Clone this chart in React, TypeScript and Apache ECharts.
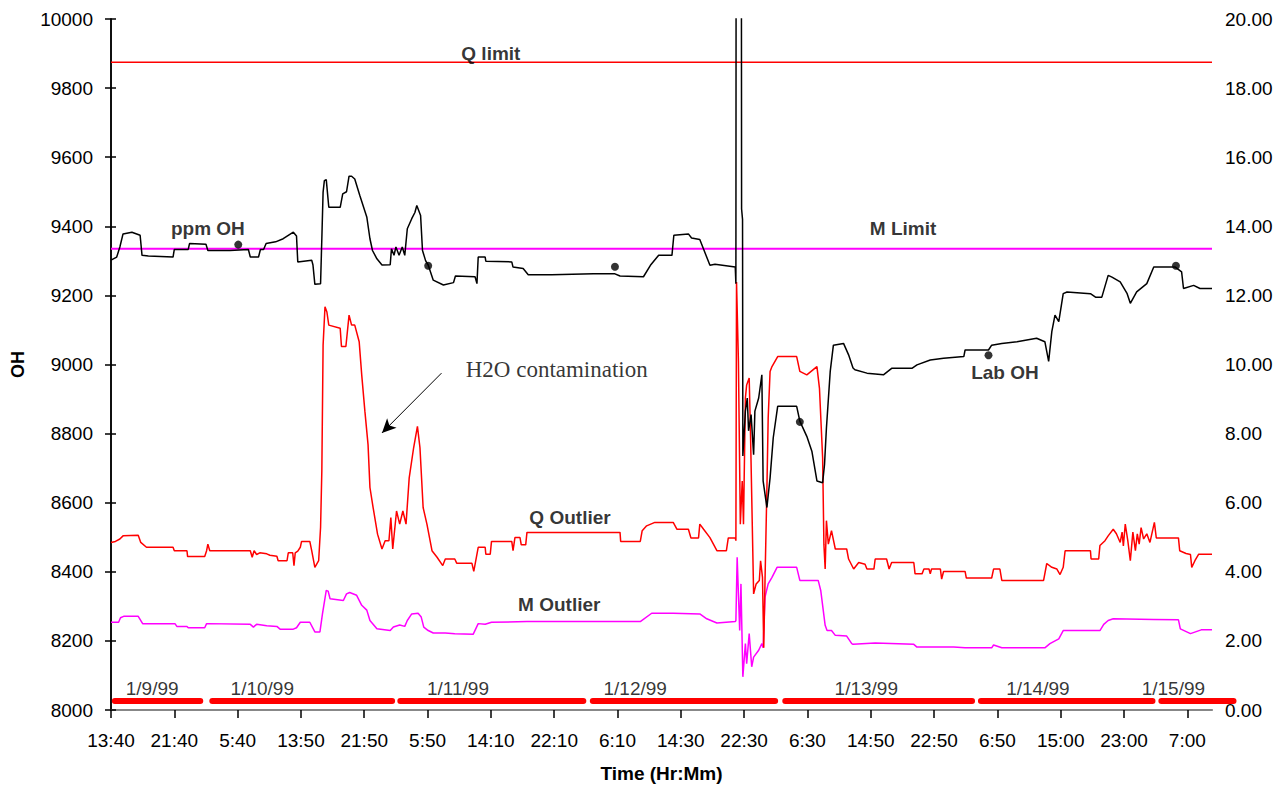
import React, { useEffect, useRef } from "react";
import * as echarts from "echarts";

const timeLabels = ["13:40","21:40","5:40","13:50","21:50","5:50","14:10","22:10","6:10","14:30","22:30","6:30","14:50","22:50","6:50","15:00","23:00","7:00"];
const X_MAX = 17.39;

// ppm OH (left axis), x in label-interval units
const ppmOH = [[0,9302],[0.09,9311],[0.14,9340],[0.19,9378],[0.33,9383],[0.46,9374],[0.49,9316],[0.59,9314],[0.98,9311],[1.0,9333],[1.22,9333],[1.24,9350],[1.50,9348],[1.53,9330],[1.88,9330],[2.17,9333],[2.20,9311],[2.33,9311],[2.36,9333],[2.41,9333],[2.45,9350],[2.60,9355],[2.72,9364],[2.88,9383],[2.93,9372],[2.95,9297],[3.17,9302],[3.19,9288],[3.22,9232],[3.31,9234],[3.33,9364],[3.35,9499],[3.37,9532],[3.40,9535],[3.44,9455],[3.62,9455],[3.66,9494],[3.72,9500],[3.76,9545],[3.80,9545],[3.85,9537],[3.93,9489],[4.04,9427],[4.09,9364],[4.13,9330],[4.20,9306],[4.28,9288],[4.41,9289],[4.43,9335],[4.47,9316],[4.50,9340],[4.55,9316],[4.60,9340],[4.64,9316],[4.68,9393],[4.75,9422],[4.80,9440],[4.83,9460],[4.89,9431],[4.92,9330],[4.97,9300],[5.01,9288],[5.09,9244],[5.25,9230],[5.41,9237],[5.44,9256],[5.75,9254],[5.78,9234],[5.80,9311],[5.91,9311],[5.92,9299],[6.33,9297],[6.35,9282],[6.51,9278],[6.59,9260],[6.96,9260],[7.62,9263],[7.95,9263],[8.04,9256],[8.41,9254],[8.52,9287],[8.65,9316],[8.86,9316],[8.89,9374],[9.12,9378],[9.17,9366],[9.30,9362],[9.46,9287],[9.54,9290],[9.86,9282],[9.87,9234],[9.875,10600],[9.955,10600],[9.96,9450],[9.975,9420],[9.98,8735],[10.02,8865],[10.05,8903],[10.07,8808],[10.11,8855],[10.15,8739],[10.17,8865],[10.23,8903],[10.28,8970],[10.30,8663],[10.36,8586],[10.41,8672],[10.46,8788],[10.53,8879],[10.83,8879],[10.88,8836],[10.99,8792],[11.07,8749],[11.15,8663],[11.24,8658],[11.27,8711],[11.30,8816],[11.36,8980],[11.41,9056],[11.57,9061],[11.65,9028],[11.72,8990],[11.75,8985],[11.94,8975],[12.20,8970],[12.33,8989],[12.65,8989],[12.73,8999],[12.94,9013],[13.15,9018],[13.47,9023],[13.49,9042],[13.86,9042],[13.91,9056],[14.07,9061],[14.31,9066],[14.62,9076],[14.75,9066],[14.81,9009],[14.86,9095],[14.91,9143],[14.97,9124],[15.04,9205],[15.10,9210],[15.47,9205],[15.55,9195],[15.65,9195],[15.75,9258],[15.81,9253],[15.94,9239],[16.05,9205],[16.10,9177],[16.20,9210],[16.36,9234],[16.47,9282],[16.81,9282],[16.91,9268],[16.94,9220],[17.10,9229],[17.20,9220],[17.39,9220]];

// Q outlier (right axis)
const qOutlier = [[0,4.85],[0.07,4.88],[0.14,4.95],[0.19,5.04],[0.43,5.06],[0.47,4.85],[0.56,4.71],[0.98,4.71],[1.0,4.61],[1.20,4.61],[1.21,4.44],[1.48,4.44],[1.51,4.61],[1.53,4.80],[1.56,4.61],[2.20,4.61],[2.23,4.42],[2.26,4.61],[2.30,4.50],[2.35,4.55],[2.46,4.52],[2.51,4.48],[2.62,4.45],[2.64,4.32],[2.78,4.32],[2.80,4.55],[2.87,4.55],[2.89,4.18],[2.91,4.55],[2.95,4.60],[2.99,4.71],[3.01,4.88],[3.14,4.88],[3.17,4.61],[3.22,4.13],[3.28,4.32],[3.31,5.28],[3.33,6.92],[3.35,10.56],[3.38,11.67],[3.41,11.52],[3.44,11.14],[3.62,11.05],[3.64,10.52],[3.71,10.52],[3.76,11.43],[3.80,11.14],[3.85,11.14],[3.92,10.66],[3.96,9.70],[4.01,8.65],[4.06,7.68],[4.09,6.44],[4.14,5.86],[4.21,5.09],[4.28,4.66],[4.33,4.90],[4.39,4.90],[4.42,5.57],[4.45,4.66],[4.51,5.76],[4.56,5.38],[4.61,5.76],[4.66,5.38],[4.71,6.72],[4.78,7.59],[4.84,8.21],[4.88,7.59],[4.93,5.86],[4.99,5.38],[5.07,4.61],[5.15,4.42],[5.24,4.18],[5.28,4.37],[5.43,4.37],[5.46,4.25],[5.70,4.25],[5.73,4.01],[5.80,4.71],[5.91,4.71],[5.92,4.51],[5.99,4.51],[6.01,4.88],[6.33,4.88],[6.35,4.61],[6.38,4.99],[6.46,4.99],[6.48,4.78],[6.55,4.78],[6.57,5.14],[8.04,5.14],[8.05,4.88],[8.36,4.88],[8.39,5.19],[8.46,5.33],[8.59,5.43],[8.88,5.43],[8.94,5.23],[9.12,5.23],[9.16,4.98],[9.28,4.98],[9.30,5.38],[9.36,5.23],[9.46,4.99],[9.57,4.61],[9.72,4.61],[9.75,4.98],[9.86,4.98],[9.87,4.90],[9.88,12.39],[9.91,10.09],[9.94,5.38],[9.97,6.63],[9.99,5.38],[10.02,9.03],[10.04,9.41],[10.08,9.61],[10.10,8.07],[10.15,3.36],[10.19,3.65],[10.24,3.75],[10.26,4.32],[10.29,3.84],[10.31,1.8],[10.33,3.75],[10.36,6.44],[10.38,8.45],[10.41,9.80],[10.44,9.94],[10.53,10.23],[10.83,10.23],[10.88,9.80],[10.99,9.70],[11.15,9.94],[11.19,9.31],[11.24,7.30],[11.26,4.80],[11.28,4.08],[11.30,5.48],[11.33,4.80],[11.38,5.19],[11.44,4.66],[11.62,4.66],[11.65,4.37],[11.73,4.08],[11.81,4.27],[11.91,4.22],[11.94,4.08],[12.05,4.08],[12.07,4.37],[12.25,4.37],[12.29,4.08],[12.33,4.27],[12.68,4.27],[12.70,3.94],[12.81,3.94],[12.84,4.08],[12.92,4.08],[12.94,3.94],[12.96,4.08],[13.10,4.08],[13.12,3.79],[13.15,4.01],[13.49,4.01],[13.51,3.82],[13.91,3.82],[13.94,4.08],[14.04,4.08],[14.07,3.75],[14.73,3.75],[14.78,4.24],[14.86,4.13],[14.94,4.08],[14.99,3.92],[15.04,4.13],[15.07,4.61],[15.47,4.61],[15.48,4.37],[15.60,4.37],[15.62,4.76],[15.70,4.90],[15.75,5.04],[15.83,5.23],[15.88,5.10],[15.94,4.85],[15.97,5.15],[15.99,4.75],[16.02,5.38],[16.06,4.90],[16.10,4.32],[16.14,5.15],[16.18,4.61],[16.21,5.10],[16.24,4.80],[16.27,5.28],[16.31,4.95],[16.36,5.10],[16.41,4.85],[16.48,5.43],[16.51,4.98],[16.86,4.98],[16.88,4.61],[16.98,4.53],[17.05,4.50],[17.07,4.13],[17.12,4.32],[17.18,4.51],[17.39,4.51]];

// M outlier (right axis)
const mOutlier = [[0,2.54],[0.12,2.54],[0.15,2.67],[0.20,2.71],[0.43,2.71],[0.50,2.50],[1.01,2.50],[1.04,2.42],[1.20,2.42],[1.22,2.38],[1.48,2.38],[1.51,2.50],[2.20,2.48],[2.25,2.40],[2.30,2.48],[2.46,2.44],[2.62,2.42],[2.67,2.34],[2.88,2.34],[2.93,2.38],[2.99,2.54],[3.14,2.54],[3.22,2.26],[3.30,2.26],[3.34,2.78],[3.40,3.46],[3.43,3.44],[3.46,3.22],[3.67,3.17],[3.72,3.36],[3.77,3.40],[3.88,3.32],[3.96,3.03],[4.04,2.89],[4.09,2.59],[4.20,2.35],[4.41,2.30],[4.46,2.40],[4.56,2.46],[4.64,2.42],[4.68,2.59],[4.75,2.78],[4.85,2.80],[4.90,2.69],[4.94,2.40],[5.01,2.30],[5.09,2.23],[5.28,2.23],[5.43,2.21],[5.72,2.19],[5.80,2.50],[5.91,2.48],[6.01,2.54],[6.57,2.56],[8.36,2.56],[8.54,2.80],[8.88,2.80],[9.30,2.78],[9.41,2.64],[9.57,2.52],[9.86,2.56],[9.87,2.59],[9.89,4.42],[9.93,2.30],[9.95,3.65],[9.98,0.96],[10.02,1.92],[10.04,1.34],[10.08,2.21],[10.12,1.25],[10.15,1.53],[10.23,1.73],[10.28,1.92],[10.30,1.80],[10.33,3.27],[10.38,3.65],[10.44,3.84],[10.52,4.13],[10.83,4.13],[10.88,3.75],[11.17,3.75],[11.21,3.46],[11.28,2.45],[11.31,2.30],[11.38,2.30],[11.44,2.16],[11.62,2.14],[11.70,1.92],[11.72,1.90],[12.07,1.94],[12.68,1.90],[12.73,1.82],[13.31,1.82],[13.49,1.80],[13.91,1.80],[13.94,1.88],[14.07,1.80],[14.75,1.80],[14.83,1.92],[14.97,2.06],[15.04,2.30],[15.62,2.30],[15.68,2.48],[15.75,2.59],[15.83,2.64],[16.47,2.62],[16.86,2.61],[16.89,2.35],[17.05,2.21],[17.22,2.32],[17.39,2.32]];

const labOH = [[2.01,9347],[5.01,9286],[7.96,9283],[10.88,8834],[13.86,9027],[16.82,9286]];
const Q_LIMIT = 18.75;
const M_LIMIT = 13.35;

const daySpans = [[0.06,1.41],[1.60,4.44],[4.57,7.46],[7.61,10.49],[10.65,13.60],[13.74,16.45],[16.59,17.73]];
const dayNames = ["1/9/99","1/10/99","1/11/99","1/12/99","1/13/99","1/14/99","1/15/99"];
const dayLabelX = [0.65,2.39,5.48,8.28,11.93,14.64,16.78];
const DAY_BAR_Y = 0.26;
const DAY_LABEL_Y = 0.62;

// annotations in left-axis units
const boldNotes = [
  { name: "ppm OH", value: [1.53, 9394] },
  { name: "Q limit", value: [6.0, 9900] },
  { name: "M Limit", value: [12.51, 9394] },
  { name: "Lab OH", value: [14.12, 8976] },
  { name: "Q Outlier", value: [7.25, 8557] },
  { name: "M Outlier", value: [7.08, 8305] },
];
const serifNote = { name: "H2O contamination", value: [7.04, 8985] };
const arrowFrom = [5.22, 8975];
const arrowTo = [4.28, 8802];

const SANS = "'Liberation Sans', Arial, sans-serif";
const FS = 19;

export default function App() {
  const ref = useRef<HTMLDivElement>(null);
  useEffect(() => {
    const chart = echarts.init(ref.current!, null, { renderer: "svg" });
    const series: any[] = [];
    series.push({
      type: "line", name: "Q limit", yAxisIndex: 1, showSymbol: false, silent: true,
      data: [[0, Q_LIMIT], [X_MAX, Q_LIMIT]],
      lineStyle: { color: "#ff0000", width: 1.5 }, z: 2,
    });
    series.push({
      type: "line", name: "M limit", yAxisIndex: 1, showSymbol: false, silent: true,
      data: [[0, M_LIMIT], [X_MAX, M_LIMIT]],
      lineStyle: { color: "#ff00ff", width: 2 }, z: 2,
    });
    series.push({
      type: "line", name: "M Outlier", yAxisIndex: 1, showSymbol: false, silent: true,
      data: mOutlier, lineStyle: { color: "#ff00ff", width: 1.5 }, z: 3,
    });
    series.push({
      type: "line", name: "Q Outlier", yAxisIndex: 1, showSymbol: false, silent: true,
      data: qOutlier, lineStyle: { color: "#ff0000", width: 1.5 }, z: 4,
    });
    series.push({
      type: "line", name: "ppm OH", yAxisIndex: 0, showSymbol: false, silent: true,
      data: ppmOH, lineStyle: { color: "#000000", width: 1.5 }, z: 5,
      markLine: {
        silent: true, symbol: ["none", "arrow"], symbolSize: [10, 14],
        lineStyle: { color: "#000", width: 1, type: "solid" },
        label: { show: false },
        data: [[{ coord: arrowFrom }, { coord: arrowTo }]],
      },
    });
    series.push({
      type: "scatter", name: "Lab OH", yAxisIndex: 0, silent: true,
      data: labOH, symbol: "circle", symbolSize: 8, itemStyle: { color: "#000" }, z: 6,
    });
    series.push({
      type: "custom", name: "days", yAxisIndex: 1, silent: true, clip: false, z: 3,
      data: daySpans.map((s) => [s[0], s[1], DAY_BAR_Y]),
      renderItem: (params: any, api: any) => {
        const p1 = api.coord([api.value(0), api.value(2)]);
        const p2 = api.coord([api.value(1), api.value(2)]);
        return {
          type: "line",
          shape: { x1: p1[0], y1: p1[1], x2: p2[0], y2: p2[1] },
          style: { stroke: "#ff0000", lineWidth: 6, lineCap: "round" },
        };
      },
    });
    series.push({
      type: "scatter", name: "dayLabels", yAxisIndex: 1, silent: true, symbolSize: 0,
      itemStyle: { color: "rgba(0,0,0,0)" },
      data: dayNames.map((n, i) => ({ name: n, value: [dayLabelX[i], DAY_LABEL_Y] })),
      label: { show: true, position: "inside", formatter: "{b}", color: "#000", fontFamily: SANS, fontSize: FS },
      z: 7,
    });
    series.push({
      type: "scatter", name: "notes", yAxisIndex: 0, silent: true, symbolSize: 0,
      itemStyle: { color: "rgba(0,0,0,0)" },
      data: boldNotes,
      label: { show: true, position: "inside", formatter: "{b}", color: "#000", fontFamily: SANS, fontSize: FS, fontWeight: "bold" },
      z: 7,
    });
    series.push({
      type: "scatter", name: "serifNote", yAxisIndex: 0, silent: true, symbolSize: 0,
      itemStyle: { color: "rgba(0,0,0,0)" },
      data: [serifNote],
      label: { show: true, position: "inside", formatter: "{b}", color: "#000", fontFamily: "'Liberation Serif', 'Times New Roman', serif", fontSize: 23 },
      z: 7,
    });

    chart.setOption({
      animation: false,
      backgroundColor: "#ffffff",
      grid: { left: 111, right: 74, top: 19, bottom: 75, containLabel: false },
      xAxis: [
        {
          type: "value", min: 0, max: X_MAX, interval: 1, position: "bottom",
          name: "Time (Hr:Mm)", nameLocation: "middle", nameGap: 54,
          nameTextStyle: { fontFamily: SANS, fontSize: FS, fontWeight: "bold", color: "#000" },
          axisLine: { show: true, onZero: false, lineStyle: { color: "#000", width: 1.5 } },
          axisTick: { show: true, length: 8, lineStyle: { color: "#000", width: 1.5 } },
          axisLabel: {
            margin: 21, color: "#000", fontFamily: SANS, fontSize: FS, showMaxLabel: false,
            formatter: (v: number) => (Number.isInteger(v) && timeLabels[v] !== undefined ? timeLabels[v] : ""),
          },
          splitLine: { show: false },
        },
        {
          type: "value", min: 0, max: X_MAX, position: "top",
          axisLine: { show: true, lineStyle: { color: "#a0a0a0", width: 1.5 } },
          axisTick: { show: false }, axisLabel: { show: false }, splitLine: { show: false },
        },
      ],
      yAxis: [
        {
          type: "value", min: 8000, max: 10000, interval: 200, position: "left",
          name: "OH", nameLocation: "middle", nameGap: 84, nameRotate: 90,
          nameTextStyle: { fontFamily: SANS, fontSize: 18, fontWeight: "bold", color: "#000" },
          axisLine: { show: true, lineStyle: { color: "#000", width: 1.5 } },
          axisTick: { show: true, length: 6, lineStyle: { color: "#000", width: 1.5 } },
          axisLabel: { margin: 18, color: "#000", fontFamily: SANS, fontSize: FS, formatter: (v: number) => String(v) },
          splitLine: { show: false },
        },
        {
          type: "value", min: 0, max: 20, interval: 2, position: "right",
          axisLine: { show: true, lineStyle: { color: "#000", width: 1.5 } },
          axisTick: { show: true, length: 5, lineStyle: { color: "#000", width: 1.5 } },
          axisLabel: { margin: 13, color: "#000", fontFamily: SANS, fontSize: FS, formatter: (v: number) => v.toFixed(2) },
          splitLine: { show: false },
        },
      ],
      series,
    });
    return () => chart.dispose();
  }, []);
  return <div ref={ref} style={{ position: "absolute", left: 0, top: 0, width: 1286, height: 788 }} />;
}
